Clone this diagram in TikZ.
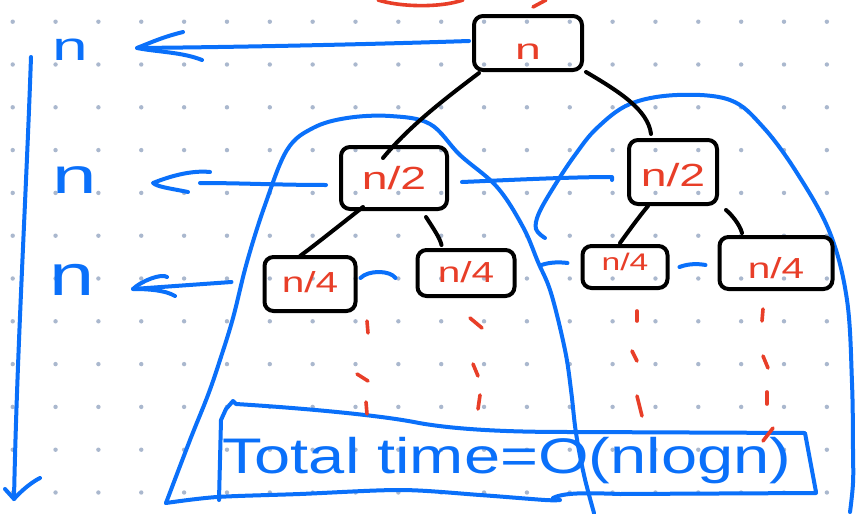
\documentclass[tikz,border=0pt]{standalone}
\usepackage{fontspec}
\setmainfont{Liberation Sans}
\usepackage{graphicx}
\usetikzlibrary{calc}
\definecolor{inkblue}{RGB}{10,112,250}
\definecolor{inkred}{RGB}{232,62,40}
\definecolor{dotc}{RGB}{170,184,206}
\tikzset{
  bl/.style={draw=inkblue, line width=4pt, line cap=round, line join=round},
  bk/.style={draw=black, line width=4pt, line cap=round, line join=round},
  rd/.style={draw=inkred, line width=3.6pt, line cap=round},
  tbox/.style={draw=black, line width=4pt, rounded corners=9pt, inner sep=0pt, text=inkred},
  nlab/.style={anchor=base west, inner sep=0pt, text=inkblue},
}
\newcommand{\boxlab}[4]{\raisebox{#1}[0pt][0pt]{\fontsize{#2}{#2}\selectfont\scalebox{#3}[1]{#4}}}
\newcommand{\bigtxt}[3]{{\fontsize{#1}{#1}\selectfont\scalebox{#2}[1]{#3}}}
\begin{document}
\begin{tikzpicture}[x=1pt,y=-1pt]
\useasboundingbox (0,0) rectangle (857,514);
\fill[white] (0,0) rectangle (857,514);
% dot grid
\foreach \i in {0,...,19}
  \foreach \j in {0,...,11}
    \fill[dotc] ({12.7+42.85*\i},{21.7+42.8*\j}) circle (2.2);

% red stroke at the top edge
\draw[rd] (378,0) .. controls (400,7) and (440,8) .. (463,0);
\draw[rd] (533,7) -- (546,0);

% big blue arches
\draw[bl] plot[smooth, tension=0.6] coordinates {(166,503) (190,440) (208,395) (220,360) (233,318) (247,262) (265,205) (287,150) (313,128) (347,118) (390,116) (430,124) (460,155) (497,187) (523,227) (538,262) (551,293) (565,350) (571,390) (576,433) (584,475) (594,513)};
\draw[bl] plot[smooth, tension=0.6] coordinates {(545,238) (536,229) (539,213) (555,185) (575,155) (597,128) (630,104) (677,95) (730,100) (763,127) (797,173) (830,233) (847,300) (852,383) (853,450) (853,483) (850,512)};
% bottom line
\draw[bl] plot[smooth, tension=0.5] coordinates {(166,503) (217,497) (300,494) (401,490) (480,495) (545,500) (560,500)};
\draw[bl] (553,498) .. controls (565,492) and (590,493) .. (620,494) -- (816,493);

% the text box
\draw[bl] (219,500) -- (221,420) -- (226,409) -- (233,401) -- (236,404)
  .. controls (300,408) and (380,415) .. (419,423)
  .. controls (470,432) and (540,432) .. (576,432) -- (805,433) -- (816,492);
\node[inner sep=0pt, anchor=base west, text=inkblue] (total) at (222,473)
  {\bigtxt{50}{1.3}{Total time=O(nlogn)}};

% tree nodes
\node[tbox, minimum width=108pt, minimum height=54pt] (root) at (528,43) {\boxlab{-16pt}{29}{1.6}{n}};
\node[tbox, minimum width=106pt, minimum height=62pt] (l2a) at (394,178) {\boxlab{-11pt}{32}{1.45}{n/2}};
\node[tbox, minimum width=88pt, minimum height=64pt] (l2b) at (673,172) {\boxlab{-14pt}{32}{1.45}{n/2}};
\node[tbox, minimum width=91pt, minimum height=54pt] (l3a) at (310,284) {\boxlab{-8pt}{29}{1.4}{n/4}};
\node[tbox, minimum width=97pt, minimum height=46pt] (l3b) at (466,273) {\boxlab{-9pt}{29}{1.4}{n/4}};
\node[tbox, minimum width=85pt, minimum height=42pt] (l3c) at (625,267) {\boxlab{-3pt}{24}{1.4}{n/4}};
\node[tbox, minimum width=113pt, minimum height=52pt] (l3d) at (776,263) {\boxlab{-15pt}{29}{1.4}{n/4}};

% tree edges
\draw[bk] ($(root.south west)+(7,1)$) .. controls (450,95) and (410,125) .. ($(l2a.north)+(-11,13)$);
\draw[bk] ($(root.south east)+(2,0)$) .. controls (620,92) and (648,110) .. ($(l2b.north)+(-22,-4)$);
\draw[bk] ($(l2a.south)+(-31,-4)$) .. controls (340,225) and (315,245) .. ($(l3a.north)+(-10,1)$);
\draw[bk] ($(l2a.south east)+(-23,6)$) .. controls (433,228) and (440,238) .. ($(l3b.north west)+(26,-3)$);
\draw[bk] ($(l2b.south)+(-25,0)$) .. controls (638,218) and (628,232) .. ($(l3c.north)+(-5,-1)$);
\draw[bk] ($(l2b.south east)+(7,4)$) .. controls (732,215) and (740,225) .. ($(l3d.north)+(-34,-2)$);

% blue same-level connectors
\draw[bl] ($(l2a.east)+(13,4)$) .. controls (510,180) and (570,177) .. ($(l2b.west)+(-15,5)$) -- ++(0,3);
\draw[bl] ($(l3a.east)+(3,-6)$) .. controls (368,270) and (390,270) .. ($(l3b.west)+(-20,5)$);
\draw[bl] ($(l3b.east)+(25,-8)$) .. controls (550,262) and (560,262) .. ($(l3c.west)+(-13,-4)$);
\draw[bl] ($(l3c.east)+(10,0)$) .. controls (690,263) and (700,264) .. ($(l3d.west)+(-12,2)$);

% level labels and arrows
\node[nlab] (n1) at (52,60) {\bigtxt{40}{1.6}{n}};
\node[nlab] (n2) at (52,193) {\bigtxt{50}{1.6}{n}};
\node[nlab] (n3) at (49,295) {\bigtxt{58}{1.4}{n}};
\coordinate (t1) at (137,48);
\coordinate (t2) at (153,183);
\coordinate (t3) at (133,289);
\draw[bl] ($(root.west)+(-3,-2)$) .. controls (380,44) and (250,47) .. (t1);
\draw[bl] (t1) ++(46,-16) .. controls ++(-20,5) and ++(15,-6) .. (t1) .. controls ++(20,4) and ++(-20,-8) .. ++(65,12);
\draw[bl] ($(l2a.west)+(-13,7)$) .. controls (280,185) and (240,183) .. ($(t2)+(47,0)$);
\draw[bl] (t2) ++(57,-11) .. controls ++(-20,-2) and ++(15,-6) .. (t2) .. controls ++(5,4) and ++(-20,-4) .. ++(35,9);
\draw[bl] ($(l3a.west)+(-31,-2)$) -- (t3);
\draw[bl] (t3) ++(34,-12) .. controls ++(-5,-4) and ++(8,-8) .. (t3) .. controls ++(15,0) and ++(-10,-6) .. ++(42,7);

% left vertical arrow
\coordinate (vtop) at (31,57);
\coordinate (vbot) at (14,499);
\draw[bl] (vtop) .. controls (26,200) and (17,350) .. (vbot);
\draw[bl] (5,489) -- (vbot) .. controls (22,490) and (32,482) .. (40,478);

% red dashed continuation marks
\foreach \x/\y/\u/\v in {367/321/368/333, 357/374/368/381, 366/402/367/414,
  470/318/482/328, 473/364/478/376, 480/395/478/409,
  637/311/637/321, 632/351/637/361, 637/396/642/416,
  763/309/762/321, 763/356/768/368, 767/392/767/404, 773/428/763/441}
  \draw[rd] (\x,\y) -- (\u,\v);
\end{tikzpicture}
\end{document}
